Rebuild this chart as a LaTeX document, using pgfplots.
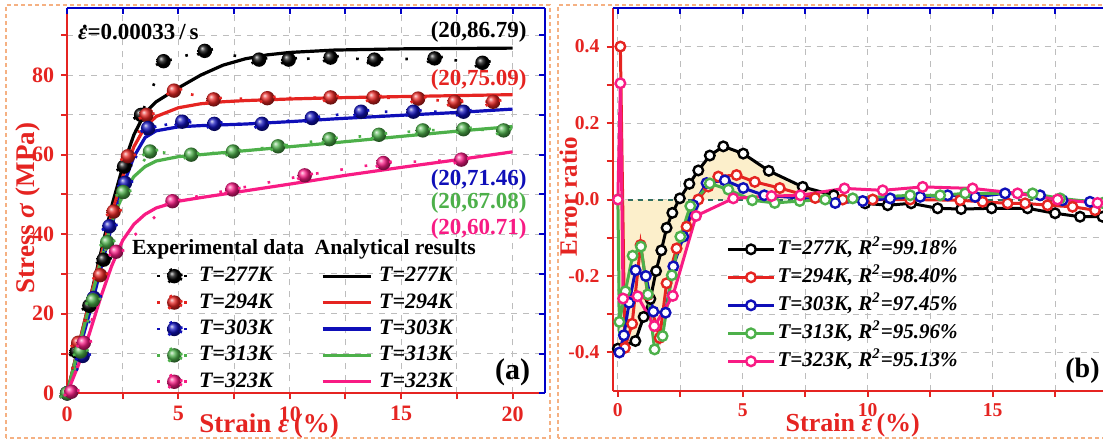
\documentclass[border=0pt]{standalone}
\usepackage{pgfplots}
\pgfplotsset{compat=1.18}
\usepackage{fontspec}
\setmainfont{Liberation Serif}

\definecolor{cR}{HTML}{E52421}
\definecolor{cB}{HTML}{0F0FB8}
\definecolor{cG}{HTML}{4DB04A}
\definecolor{cP}{HTML}{F81B84}
\definecolor{cK}{HTML}{000000}
\definecolor{cAxB}{HTML}{0000C8}
\definecolor{cGrid}{HTML}{BDBDBD}
\definecolor{cFill}{HTML}{FCEFCB}
\definecolor{cZero}{HTML}{2F6E5E}
\definecolor{cFrame}{HTML}{F5B183}

\pgfplotsset{
  panel/.style={
    scale only axis,
    axis line style={-, line width=1pt},
    /pgf/number format/assume math mode=true,
    tick label style={font=\bfseries\fontsize{11}{12}\selectfont, text=cR},
    label style={font=\bfseries\fontsize{13.5}{15}\selectfont, text=cR},
    major tick length=3pt, minor tick length=3pt,
    every tick/.style={line width=1pt},
  },
  bottomleft/.style={panel,
    axis x line*=bottom, axis y line*=left,
    axis line style={cR},
    every tick/.append style={cR},
    tick align=outside,
    grid=both, grid style={dashed, cGrid, line width=0.5pt},
  },
  topright/.style={panel,
    axis x line*=top, axis y line*=right,
    axis line style={cAxB},
    every tick/.append style={cAxB},
    tick align=inside,
    xticklabels={}, yticklabels={},
  },
  expline/.style={dash pattern=on 1.3pt off 11pt, line width=1.3pt, mark=ball, mark size=3.6pt, mark options={solid}},
  anaL/.style={line width=1.6pt},
  anaimg/.style={legend image code/.code={\draw[##1] (0cm,0cm) -- (0.85cm,0cm);}},
  errimg/.style={legend image code/.code={\draw[##1, mark repeat=2, mark phase=2] plot coordinates {(0cm,0cm) (0.4cm,0cm) (0.8cm,0cm)};}},
  errl/.style={line width=1.5pt, mark=*, mark size=2.4pt, mark options={fill=white, solid, line width=1.2pt}},
}

\begin{document}
\begin{tikzpicture}[x=1pt,y=1pt]
\path[use as bounding box] (0,0) rectangle (551.5,220.5);
\draw[cFrame, dash pattern=on 2pt off 1.5pt, line width=0.6pt] (3,1.5) rectangle (275,218);
\draw[cFrame, dash pattern=on 2pt off 1.5pt, line width=0.6pt] (279,1.5) rectangle (560,218);

% ---------- (a) stress-strain ----------
\begin{axis}[bottomleft,
  at={(33.55pt,23.85pt)}, anchor=south west,
  width=238.75pt, height=192.5pt,
  xmin=0, xmax=21.44, ymin=0, ymax=96.8,
  xtick={0,5,10,15,20}, minor xtick={2.5,7.5,12.5,17.5},
  ytick={0,20,40,60,80}, minor ytick={10,30,50,70,90},
  xlabel={Strain \textit{ε}\,(\%)},
  ylabel={Stress \textit{σ} (MPa)},
  xlabel style={at={(axis description cs:0.423,0)}, anchor=center, yshift=-16.5pt},
  ylabel style={at={(axis description cs:-0.082,0.481)}, anchor=center},
  legend columns=2,
  legend style={draw=none, fill=none, at={(axis cs:3.7,33.8)}, anchor=north west,
    font=\bfseries\itshape\fontsize{11}{12}\selectfont,
    nodes={text height=8pt, text depth=2.5pt, inner sep=1.2pt},
    column sep=2pt, row sep=0.3pt,
    /tikz/every even column/.append style={column sep=23pt}},
]
% analytical results
\addplot[anaL, color=cK, forget plot] coordinates {(0,0) (0.5,11.5) (1,23) (1.5,35) (2,47) (2.5,57) (3,65) (3.5,70.5) (4,73.3) (5,76.8) (6,80) (7,82.5) (8,84.1) (9,85.1) (10,85.7) (12,86.3) (15,86.6) (20,86.79)};
\addplot[anaL, color=cR, forget plot] coordinates {(0,0) (0.5,11.5) (1,23) (1.5,34) (2,45) (2.5,54.5) (3,62) (3.5,67) (4,69.6) (5,71.8) (6,72.8) (7,73.3) (8,73.6) (10,74) (12,74.3) (15,74.6) (20,75.09)};
\addplot[anaL, color=cB, forget plot] coordinates {(0,0) (0.5,10) (1,20) (1.5,31) (2,42) (2.5,52) (3,59.5) (3.5,64.3) (4,66) (5,67) (6,67.3) (8,67.7) (10,68.3) (12,69) (15,69.9) (17.5,70.6) (20,71.46)};
\addplot[anaL, color=cG, forget plot] coordinates {(0,0) (0.5,11) (1,22) (1.5,33) (2,43) (2.5,50) (3,54.5) (3.5,57) (4,58.4) (5,59.5) (6,60) (8,61) (10,62) (12,63) (15,64.6) (17.5,65.9) (20,67.08)};
\addplot[anaL, color=cP, forget plot] coordinates {(0,0) (0.5,7) (1,15) (1.5,24) (2,32) (2.5,38.5) (3,42.5) (3.5,45) (4,46.6) (5,48.3) (6,49.2) (8,50.9) (10,52.6) (12.5,54.8) (15,56.8) (17.5,58.7) (20,60.71)};
% experimental data
\addplot[expline, color=cK, mark options={ball color=black}, forget plot] coordinates {(0,0) (0.43,10.5) (1.0,22) (1.64,33.6) (2.56,57) (3.32,70) (4.33,83.5) (6.18,86.1) (8.62,83.9) (9.95,83.9) (11.83,84.4) (13.8,83.9) (16.5,84.2) (18.65,83.1)};
\addplot[expline, color=cR, mark options={ball color=cR}, forget plot] coordinates {(0,0) (0.5,12.7) (1.48,29.7) (2.09,45.7) (2.73,59.6) (3.56,70) (4.8,76.1) (6.58,73.9) (8.99,74.2) (11.83,74.4) (13.76,74.4) (15.76,74.1) (17.4,73.3) (19.13,73.3)};
\addplot[expline, color=cB, mark options={ball color=cB}, forget plot] coordinates {(0,0) (0.7,9.4) (1.2,24) (1.9,42) (2.6,52.9) (3.64,66.7) (5.17,68.3) (6.61,67.75) (8.75,67.75) (10.99,69.2) (13.2,70.8) (15.55,70.8) (17.8,70.8)};
\addplot[expline, color=cG, mark options={ball color=cG}, forget plot] coordinates {(0,0) (0.6,10.5) (1.16,23.4) (1.8,38) (2.52,50.6) (3.72,60.8) (5.57,60) (7.45,60.8) (9.47,62.1) (11.78,63.9) (14.0,65) (15.97,66.1) (17.8,66.4) (19.6,66.1)};
\addplot[expline, color=cP, mark options={ball color=cP}, forget plot] coordinates {(0.19,0.4) (0.75,12.7) (2.2,35.6) (4.73,48.3) (7.42,51.25) (10.67,54.8) (14.2,57.9) (17.7,58.75)};
% legend
\addlegendimage{expline, dash pattern=on 1.3pt off 5.5pt, color=cK, mark options={ball color=black}}
\addlegendentry{T=277K}
\addlegendimage{anaL, color=cK, anaimg}
\addlegendentry{T=277K}
\addlegendimage{expline, dash pattern=on 1.3pt off 5.5pt, color=cR, mark options={ball color=cR}}
\addlegendentry{T=294K}
\addlegendimage{anaL, color=cR, anaimg}
\addlegendentry{T=294K}
\addlegendimage{expline, dash pattern=on 1.3pt off 5.5pt, color=cB, mark options={ball color=cB}}
\addlegendentry{T=303K}
\addlegendimage{anaL, color=cB, anaimg}
\addlegendentry{T=303K}
\addlegendimage{expline, dash pattern=on 1.3pt off 5.5pt, color=cG, mark options={ball color=cG}}
\addlegendentry{T=313K}
\addlegendimage{anaL, color=cG, anaimg}
\addlegendentry{T=313K}
\addlegendimage{expline, dash pattern=on 1.3pt off 5.5pt, color=cP, mark options={ball color=cP}}
\addlegendentry{T=323K}
\addlegendimage{anaL, color=cP, anaimg}
\addlegendentry{T=323K}
% texts
\node[anchor=west, inner sep=0pt, font=\bfseries\fontsize{10.8}{12}\selectfont] at (axis cs:2.9,36.2) {Experimental data};
\node[anchor=west, inner sep=0pt, font=\bfseries\fontsize{10.8}{12}\selectfont] at (axis cs:11.1,36.2) {Analytical results};
\node[anchor=west, inner sep=0pt, font=\bfseries\fontsize{11.5}{12}\selectfont] at (axis cs:0.48,90.8) {\textit{\makebox[0pt][l]{\hspace{0.2em}\raisebox{0.5em}{.}}ε}=0.00033\,/\,s};
\node[anchor=east, inner sep=0pt, font=\bfseries\fontsize{11.5}{12}\selectfont, text=cK] at (axis cs:20.65,90.8) {(20,86.79)};
\node[anchor=east, inner sep=0pt, font=\bfseries\fontsize{11.5}{12}\selectfont, text=cR] at (axis cs:20.65,78.75) {(20,75.09)};
\node[anchor=east, inner sep=0pt, font=\bfseries\fontsize{11.5}{12}\selectfont, text=cB] at (axis cs:20.65,53.75) {(20,71.46)};
\node[anchor=east, inner sep=0pt, font=\bfseries\fontsize{11.5}{12}\selectfont, text=cG] at (axis cs:20.65,47.9) {(20,67.08)};
\node[anchor=east, inner sep=0pt, font=\bfseries\fontsize{11.5}{12}\selectfont, text=cP] at (axis cs:20.65,41.4) {(20,60.71)};
\node[font=\bfseries\fontsize{15}{16}\selectfont] at (axis cs:20.0,5.4) {(a)};
\end{axis}
\begin{axis}[topright,
  at={(33.55pt,23.85pt)}, anchor=south west,
  width=238.75pt, height=192.5pt,
  xmin=0, xmax=21.44, ymin=0, ymax=96.8,
  xtick={0,5,10,15,20}, minor xtick={2.5,7.5,12.5,17.5},
  ytick={0,20,40,60,80}, minor ytick={10,30,50,70,90},
]
\end{axis}

% ---------- (b) error ratio ----------
\begin{axis}[bottomleft,
  at={(306.25pt,25.15pt)}, anchor=south west,
  width=248.75pt, height=191.2pt,
  xmin=-0.215, xmax=19.7, ymin=-0.5, ymax=0.5,
  xtick={0,5,10,15}, minor xtick={2.5,7.5,12.5,17.5},
  ytick={-0.4,-0.2,0,0.2,0.4}, minor ytick={-0.3,-0.1,0.1,0.3},
  tick label style={font=\bfseries\fontsize{9.8}{11}\selectfont},
  yticklabel style={/pgf/number format/.cd, fixed, fixed zerofill, precision=1},
  xlabel={Strain \textit{ε}\,(\%)},
  ylabel={Error ratio},
  xlabel style={at={(axis description cs:0.483,0)}, anchor=center, yshift=-17.5pt, font=\bfseries\fontsize{13}{15}\selectfont},
  ylabel style={at={(axis description cs:-0.089,0.507)}, anchor=center, font=\bfseries\fontsize{12.5}{15}\selectfont},
  legend style={draw=none, fill=none, at={(axis cs:4.1,-0.085)}, anchor=north west,
    font=\bfseries\itshape\fontsize{10.5}{12}\selectfont,
    nodes={text height=8pt, text depth=2.5pt, inner sep=1.2pt}, row sep=1.1pt},
  errimg,
]
\addplot[fill=cFill, draw=none, forget plot] coordinates {(0,0) (0,-0.40) (0.3,-0.39) (0.7,-0.37) (1.0,-0.31) (1.2,-0.30) (1.47,-0.392) (1.79,-0.36) (2.16,-0.25) (3.13,-0.043) (3.4,0)} \closedcycle;
\addplot[fill=cFill, draw=none, forget plot] coordinates {(2.48,0) (2.86,0.041) (3.22,0.076) (3.68,0.115) (4.22,0.139) (5.02,0.120) (6.04,0.075) (7.4,0.033) (8.64,0.011) (9.3,0)} \closedcycle;
\addplot[cZero, dash pattern=on 2.5pt off 2.5pt, line width=1pt, forget plot] coordinates {(0,0) (19.7,0)};
\addplot[errl, color=cK] coordinates {(0,-0.39) (0.7,-0.37) (1.03,-0.307) (1.3,-0.26) (1.53,-0.187) (1.74,-0.133) (1.95,-0.074) (2.18,-0.035) (2.48,0.003) (2.86,0.041) (3.22,0.076) (3.68,0.115) (4.22,0.139) (5.02,0.120) (6.04,0.075) (7.4,0.033) (8.64,0.011) (9.9,-0.010) (10.8,-0.015) (11.74,-0.010) (12.8,-0.023) (13.74,-0.025) (14.96,-0.023) (16.4,-0.023) (17.5,-0.036) (18.5,-0.045) (19.4,-0.045)};
\addlegendentry{T=277K, R\textsuperscript{2}=99.18\%}
\addplot[errl, color=cR] coordinates {(0.1,0.4) (0.28,-0.388) (0.57,-0.325) (0.91,-0.119) (1.2,-0.25) (1.67,-0.362) (1.95,-0.219) (2.35,-0.128) (2.75,-0.071) (3.22,0.0) (3.62,0.034) (4.02,0.060) (4.75,0.064) (5.48,0.046) (6.48,0.03) (7.9,0.004) (9,0.0) (10.2,0) (11.7,0) (13.7,-0.002) (14.6,-0.006) (15.6,-0.010) (16.3,-0.010) (17.2,-0.015) (18.2,-0.019) (19.1,-0.028)};
\addlegendentry{T=294K, R\textsuperscript{2}=98.40\%}
\addplot[errl, color=cB] coordinates {(0.06,-0.40) (0.24,-0.355) (0.45,-0.27) (0.71,-0.185) (1.12,-0.20) (1.42,-0.293) (1.91,-0.296) (2.22,-0.175) (2.62,-0.097) (3.02,-0.015) (3.55,0.043) (4.28,0.050) (5.02,0.030) (5.86,0.011) (7.3,0.004) (8.7,-0.009) (9.8,-0.004) (10.9,0.003) (12.1,0.007) (13.2,0.011) (14.3,0.007) (15.5,0.016) (16.9,0.011) (17.8,-0.002) (18.9,-0.006)};
\addlegendentry{T=303K, R\textsuperscript{2}=97.45\%}
\addplot[errl, color=cG] coordinates {(0,0) (0.06,-0.32) (0.3,-0.24) (0.59,-0.147) (0.92,-0.123) (1.2,-0.248) (1.47,-0.392) (1.79,-0.357) (2.16,-0.198) (2.5,-0.097) (2.9,-0.017) (3.68,0.042) (4.42,0.026) (5.38,-0.002) (6.28,-0.009) (7.28,-0.004) (8.3,0) (9.4,0.003) (11.7,0.011) (12.9,0.011) (13.9,0.016) (16.6,0.016) (17.7,0.003) (19.4,-0.009)};
\addlegendentry{T=313K, R\textsuperscript{2}=95.96\%}
\addplot[errl, color=cP] coordinates {(0,0) (0.1,0.304) (0.21,-0.259) (0.79,-0.253) (1.46,-0.331) (2.2,-0.252) (3.13,-0.043) (4.62,0.003) (6.15,0.009) (7.3,0.011) (9.07,0.029) (10.6,0.024) (12.2,0.033) (14.2,0.029) (16.0,0.016) (17.6,0.0) (19.2,-0.009)};
\addlegendentry{T=323K, R\textsuperscript{2}=95.13\%}
\node[font=\bfseries\fontsize{14}{16}\selectfont] at (axis cs:18.6,-0.449) {(b)};
\end{axis}
\begin{axis}[topright,
  at={(306.25pt,25.15pt)}, anchor=south west,
  width=248.75pt, height=191.2pt,
  xmin=-0.215, xmax=19.7, ymin=-0.5, ymax=0.5,
  xtick={0,5,10,15}, minor xtick={2.5,7.5,12.5,17.5},
  ytick={-0.4,-0.2,0,0.2,0.4}, minor ytick={-0.3,-0.1,0.1,0.3},
]
\end{axis}
\end{tikzpicture}
\end{document}
